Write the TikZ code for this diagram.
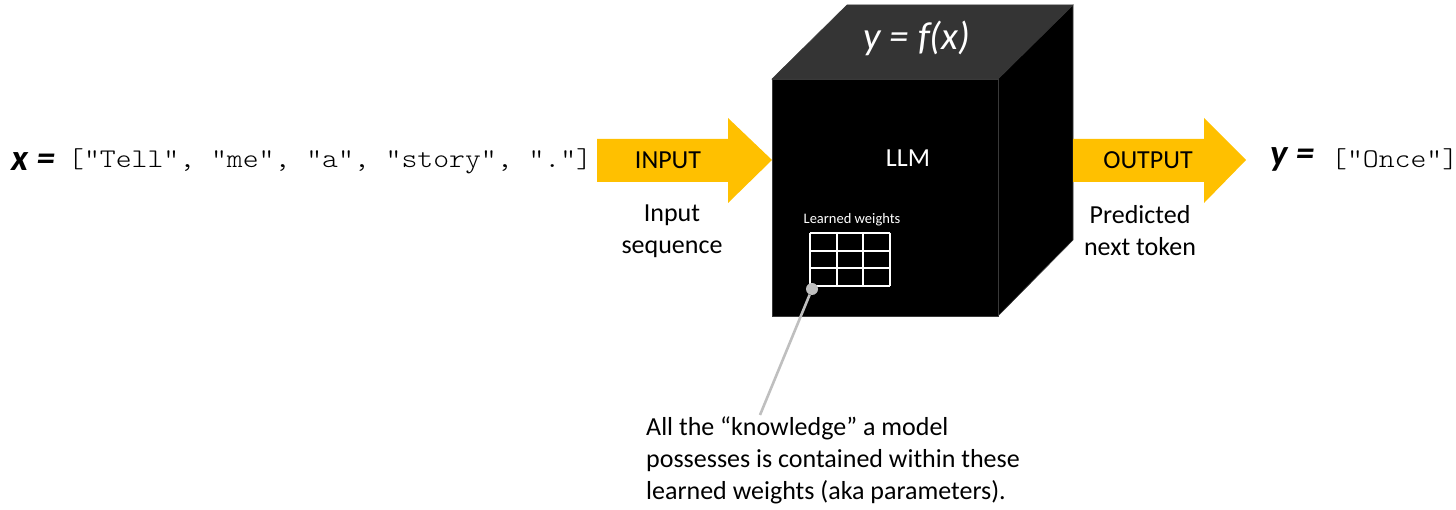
\documentclass[tikz,border=0pt]{standalone}
\usepackage{fontspec}
\setmainfont{Carlito}
\newfontfamily\codefont{Latin Modern Mono Light}[FakeStretch=1.12, Ligatures=TeXOff]
\usetikzlibrary{positioning}
\definecolor{arrowgold}{RGB}{255,192,0}
\definecolor{lidgray}{RGB}{52,52,52}
\definecolor{pingray}{RGB}{191,191,191}

\begin{document}
\begin{tikzpicture}[x=1pt, y=-1pt,
  txt/.style={font=\fontsize{26}{32}\selectfont, inner sep=0pt},
  codetxt/.style={font=\codefont\fontsize{27}{32}\selectfont, inner sep=0pt},
  varlbl/.style={font=\fontsize{37}{40}\selectfont\bfseries\itshape, inner sep=0pt},
  cubeface/.style={draw=gray!45!black, line width=0.6pt},
  gridline/.style={white, line width=1.8pt}]
\useasboundingbox (0,0) rectangle (1456,510);
% LEFT: input sequence
\node[varlbl, anchor=base west] (xlbl) at (11,171) {x =};
\node[codetxt, anchor=base west] (xseq) at (68,168)
  {["Tell", "me", "a", "story", "."]};
\fill[arrowgold] (597,139) -- (728,139) -- (728,118) -- (772,160)
  -- (728,203) -- (728,182) -- (597,182) -- cycle;
\node[txt, anchor=base] (inlbl) at (668,169) {INPUT};
\node[txt, align=center, anchor=north] (indesc) at (672,205)
  {Input\\sequence};
% CENTRE: the LLM box
\fill[lidgray, cubeface] (772,79) -- (847,5) -- (1073,5) -- (998,79) -- cycle;
\fill[black, cubeface] (998,79) -- (1073,5) -- (1073,240) -- (998,316) -- cycle;
\fill[black, cubeface] (772,79) rectangle (998,316);
\node[txt, white, font=\fontsize{39}{42}\selectfont\itshape, anchor=base]
  (fx) at (917,50) {y = f(x)};
\node[txt, white, anchor=base] (llm) at (908,167) {LLM};
\node[txt, white, font=\fontsize{14.5}{17}\selectfont, anchor=base]
  (wlbl) at (852,224) {Learned weights};
\foreach \x in {810,836.7,863.3,890}{
  \draw[gridline] (\x,233) -- (\x,286);
}
\foreach \y in {233,250.7,268.3,286}{
  \draw[gridline] (810,\y) -- (890,\y);
}
\node[circle, fill=pingray, minimum size=12pt, inner sep=0pt] (wdot) at (812,289) {};
% RIGHT: output token
\fill[arrowgold] (1073,139) -- (1204,139) -- (1204,118) -- (1246,160)
  -- (1204,203) -- (1204,182) -- (1073,182) -- cycle;
\node[txt, anchor=base] (outlbl) at (1148,169) {OUTPUT};
\node[txt, align=center, anchor=north] (outdesc) at (1140,205)
  {Predicted\\next token};
\node[varlbl, anchor=base west] (ylbl) at (1270,166) {y =};
\node[codetxt, anchor=base west] (yseq) at (1331,168) {["Once"]};
% BOTTOM: note on the weights
\node[txt, align=left, anchor=north west] (note) at (646,417)
  {All the “knowledge” a model\\possesses is contained within these\\learned weights (aka parameters).};
\coordinate (tail) at (760,415);
\draw[pingray, line width=2.6pt] (wdot) -- (tail);
\end{tikzpicture}
\end{document}
